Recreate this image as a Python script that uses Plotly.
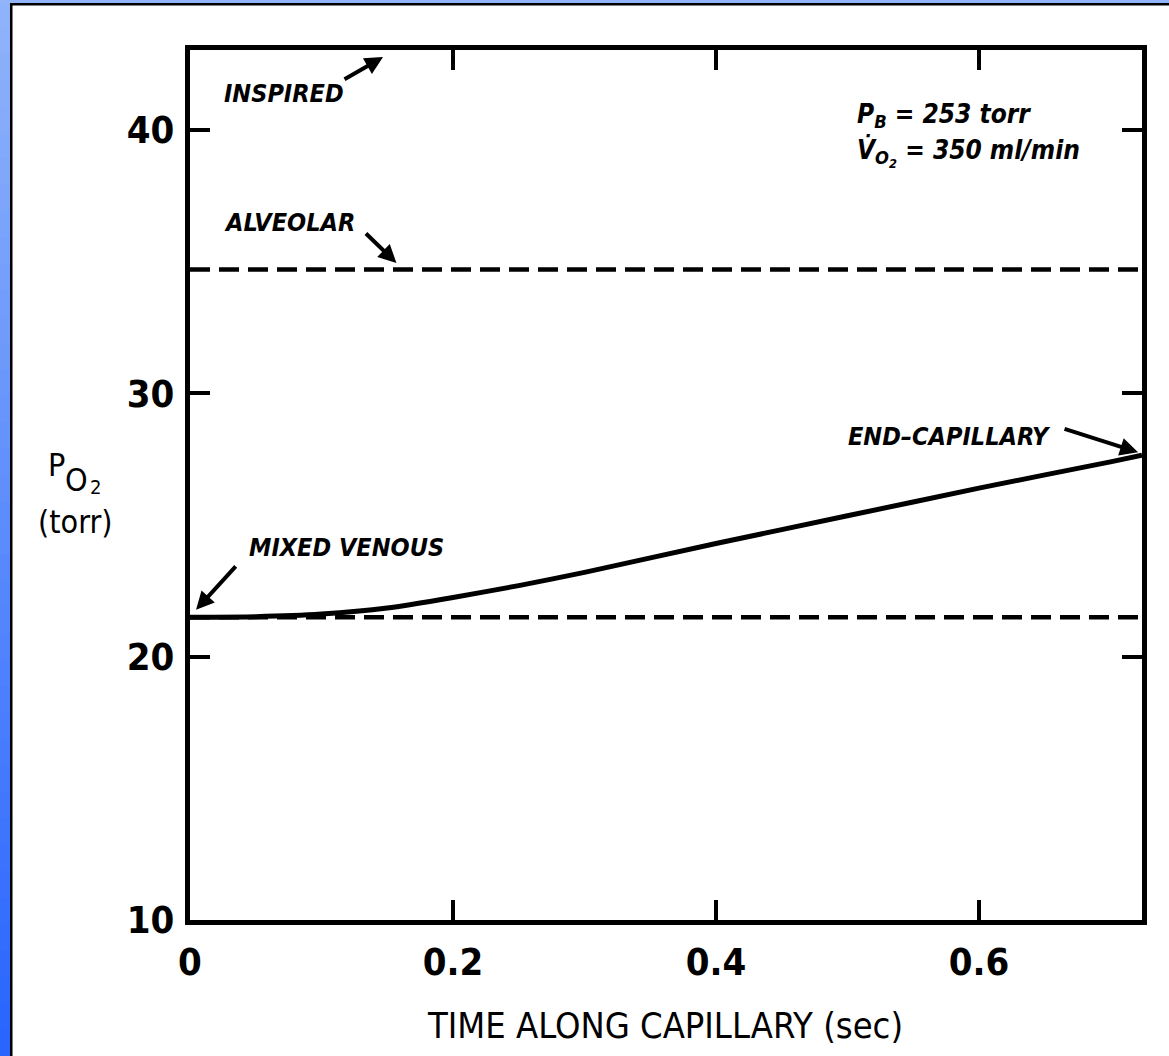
import plotly.graph_objects as go

# ---- data ----
time_s = [0.0, 0.05, 0.10, 0.15, 0.20, 0.25, 0.30, 0.40, 0.50, 0.60, 0.70, 0.724]
po2_capillary = [21.5, 21.52, 21.62, 21.85, 22.25, 22.7, 23.2, 24.3, 25.35, 26.4, 27.4, 27.65]
alveolar_x = [0.0, 0.724]
alveolar_po2 = [34.7, 34.7]
venous_x = [0.0, 0.724]
venous_po2 = [21.5, 21.5]
x_ticks = [0, 0.2, 0.4, 0.6]
x_tick_labels = ["0", "0.2", "0.4", "0.6"]
y_ticks = [10, 20, 30, 40]
y_tick_labels = ["10", "20", "30", "40"]

W, H = 1169, 1056
L, R, T, B = 190, 27, 50, 136
PW, PH = W - L - R, H - T - B

def px(xp):
    return (xp - L) / PW

def py(yp):
    return (H - B - yp) / PH

FONT = "Liberation Sans Narrow, DejaVu Sans Condensed, Arial Narrow, sans-serif"

fig = go.Figure()
fig.add_trace(go.Scatter(x=alveolar_x, y=alveolar_po2, mode="lines",
                         line=dict(color="black", width=4.5, dash="20px,9px"),
                         showlegend=False, hoverinfo="skip"))
fig.add_trace(go.Scatter(x=venous_x, y=venous_po2, mode="lines",
                         line=dict(color="black", width=4.5, dash="20px,9px"),
                         showlegend=False, hoverinfo="skip"))
fig.add_trace(go.Scatter(x=time_s, y=po2_capillary, mode="lines",
                         line=dict(color="black", width=5, shape="spline", smoothing=0.6),
                         showlegend=False, hoverinfo="skip"))

# ---- blue frame (gradient on left) ----
shapes = []
n = 40
top_c = (145, 180, 250)
bot_c = (40, 100, 255)
for i in range(n):
    y0p = H * i / n
    y1p = H * (i + 1) / n + 1
    t = (i + 0.5) / n
    c = tuple(int(top_c[k] + (bot_c[k] - top_c[k]) * t) for k in range(3))
    shapes.append(dict(type="rect", xref="paper", yref="paper",
                       x0=px(0), x1=px(10), y0=py(y1p), y1=py(y0p),
                       fillcolor="rgb(%d,%d,%d)" % c, line=dict(width=0), layer="below"))
shapes.append(dict(type="rect", xref="paper", yref="paper",
                   x0=px(0), x1=px(W), y0=py(3), y1=py(0),
                   fillcolor="rgb(145,180,250)", line=dict(width=0), layer="below"))
shapes.append(dict(type="rect", xref="paper", yref="paper",
                   x0=px(10), x1=px(12.5), y0=py(H), y1=py(3),
                   fillcolor="black", line=dict(width=0), layer="below"))
shapes.append(dict(type="rect", xref="paper", yref="paper",
                   x0=px(10), x1=px(W), y0=py(5.5), y1=py(3),
                   fillcolor="black", line=dict(width=0), layer="below"))

ann_font = dict(family=FONT, size=25, color="black", weight="bold", style="italic")
ann_font2 = dict(family=FONT, size=26, color="black", weight="bold", style="italic")
arrow_kw = dict(text="", showarrow=True, arrowhead=2, arrowsize=0.9, arrowwidth=4, arrowcolor="black")
yt_font = dict(family=FONT, size=32, color="black")
annotations = [
    dict(x=0.0243, y=41.37, text="INSPIRED", showarrow=False, xanchor="left", yanchor="middle", font=ann_font),
    dict(x=0.0243, y=36.5, text="ALVEOLAR", showarrow=False, xanchor="left", yanchor="middle", font=ann_font),
    dict(x=0.0433, y=24.14, text="MIXED VENOUS", showarrow=False, xanchor="left", yanchor="middle", font=ann_font),
    dict(x=0.656, y=28.37, text="END\u2013CAPILLARY", showarrow=False, xanchor="right", yanchor="middle", font=ann_font),
    dict(x=0.5057, y=40.57, text="P<sub>B</sub> = 253 torr", showarrow=False, xanchor="left", yanchor="middle", font=ann_font2),
    dict(x=0.5057, y=39.15, text="V\u0307<sub>O<sub>2</sub></sub> = 350 ml/min", showarrow=False, xanchor="left", yanchor="middle", font=ann_font2),
    # arrows
    dict(x=0.1468, y=42.77, ax=-40, ay=23, **arrow_kw),
    dict(x=0.157, y=34.95, ax=-32, ay=-31, **arrow_kw),
    dict(x=0.721, y=27.76, ax=-75, ay=-24, **arrow_kw),
    dict(x=0.0046, y=21.78, ax=41, ay=-45, **arrow_kw),
    # y axis title: P, O, 2
    dict(xref="paper", yref="paper", x=px(56), y=py(465), text="P", showarrow=False,
         xanchor="center", yanchor="middle", font=dict(family=FONT, size=32, color="black")),
    dict(xref="paper", yref="paper", x=px(76), y=py(480), text="O", showarrow=False,
         xanchor="center", yanchor="middle", font=dict(family=FONT, size=32, color="black")),
    dict(xref="paper", yref="paper", x=px(95), y=py(487), text="2", showarrow=False,
         xanchor="center", yanchor="middle", font=dict(family=FONT, size=20, color="black")),
    dict(xref="paper", yref="paper", x=px(75), y=py(522), text="(torr)", showarrow=False,
         xanchor="center", yanchor="middle", font=yt_font),
    dict(xref="paper", yref="paper", x=px(665), y=py(1025), text="TIME ALONG CAPILLARY (sec)", showarrow=False,
         xanchor="center", yanchor="middle", font=dict(family=FONT, size=36, color="black")),
]

tick_font = dict(family=FONT, size=38, color="black", weight="bold")
fig.update_layout(
    width=W, height=H,
    margin=dict(l=L, r=R, t=T, b=B),
    paper_bgcolor="white", plot_bgcolor="white",
    shapes=shapes, annotations=annotations,
    xaxis=dict(range=[0, 0.724], tickvals=x_ticks, ticktext=x_tick_labels,
               showgrid=False, zeroline=False, showline=True, linecolor="black", linewidth=5,
               mirror="allticks", ticks="inside", ticklen=20, tickwidth=4, tickcolor="black",
               tickfont=tick_font, ticklabelstandoff=4),
    yaxis=dict(range=[10, 43.04], tickvals=y_ticks, ticktext=y_tick_labels,
               showgrid=False, zeroline=False, showline=True, linecolor="black", linewidth=5,
               mirror="allticks", ticks="inside", ticklen=20, tickwidth=4, tickcolor="black",
               tickfont=tick_font, ticklabelstandoff=3),
)

fig.write_html("out.html")
